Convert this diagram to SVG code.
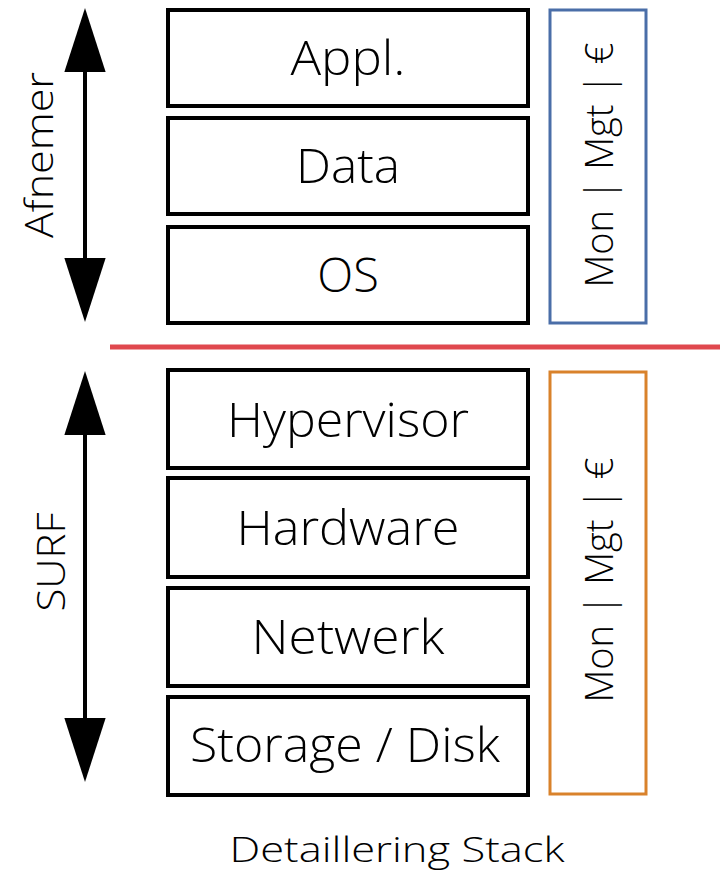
<svg xmlns="http://www.w3.org/2000/svg" width="720" height="873" viewBox="0 0 720 873">
<style>
.box{fill:#fff;stroke:#000;stroke-width:4}
.lbl{font-family:"Open Sans","DejaVu Sans",sans-serif;font-weight:300;font-size:47px;fill:#000;text-anchor:middle}
.side{font-family:"Open Sans","DejaVu Sans",sans-serif;font-weight:300;font-size:38px;fill:#000;text-anchor:middle}
.arr{stroke:#000;stroke-width:4;fill:none}
</style>
<defs>
<marker id="head" markerUnits="userSpaceOnUse" markerWidth="64" markerHeight="42" refX="0" refY="20" orient="auto-start-reverse" viewBox="0 0 62 40">
<path d="M0,0 L62,20 L0,40 Z" fill="#000"/>
</marker>
</defs>
<rect width="720" height="873" fill="#fff"/>
<g id="connectors">
<line class="arr" x1="85" y1="72" x2="85" y2="258" marker-start="url(#head)" marker-end="url(#head)"/>
<line class="arr" x1="85" y1="435" x2="85" y2="718" marker-start="url(#head)" marker-end="url(#head)"/>
<line x1="110" y1="347" x2="720" y2="347" stroke="#e0484e" stroke-width="5"/>
</g>
<g id="label-afnemer"><text class="side" transform="translate(53,155) rotate(-90)" textLength="166" lengthAdjust="spacingAndGlyphs">Afnemer</text></g>
<g id="label-surf"><text class="side" transform="translate(65,562) rotate(-90)" textLength="99" lengthAdjust="spacingAndGlyphs">SURF</text></g>
<g id="appl"><rect class="box" x="168" y="10" width="360" height="96"/><text class="lbl" x="348" y="75" textLength="115" lengthAdjust="spacingAndGlyphs">Appl.</text></g>
<g id="data"><rect class="box" x="168" y="118" width="360" height="96"/><text class="lbl" x="348" y="183" textLength="104" lengthAdjust="spacingAndGlyphs">Data</text></g>
<g id="os"><rect class="box" x="168" y="227" width="360" height="96"/><text class="lbl" x="348" y="292">OS</text></g>
<g id="mon-afnemer"><rect x="550" y="10" width="96" height="313" fill="#fff" stroke="#4a6ea8" stroke-width="3"/><text class="side" transform="translate(613,165) rotate(-90)" textLength="245" lengthAdjust="spacingAndGlyphs">Mon | Mgt | €</text></g>
<g id="hypervisor"><rect class="box" x="168" y="370" width="360" height="98"/><text class="lbl" x="348" y="437" textLength="242" lengthAdjust="spacingAndGlyphs">Hypervisor</text></g>
<g id="hardware"><rect class="box" x="168" y="478" width="360" height="99"/><text class="lbl" x="348" y="545" textLength="223" lengthAdjust="spacingAndGlyphs">Hardware</text></g>
<g id="netwerk"><rect class="box" x="168" y="588" width="360" height="98"/><text class="lbl" x="348" y="654" textLength="193" lengthAdjust="spacingAndGlyphs">Netwerk</text></g>
<g id="storage"><rect class="box" x="168" y="697" width="360" height="98"/><text class="lbl" x="345" y="762" textLength="310" lengthAdjust="spacingAndGlyphs">Storage / Disk</text></g>
<g id="mon-surf"><rect x="550" y="372" width="96" height="422" fill="#fff" stroke="#d9822b" stroke-width="3"/><text class="side" transform="translate(613,580) rotate(-90)" textLength="245" lengthAdjust="spacingAndGlyphs">Mon | Mgt | €</text></g>
<g id="caption"><text class="side" x="397" y="862" style="font-size:35px" textLength="335" lengthAdjust="spacingAndGlyphs">Detaillering Stack</text></g>
</svg>
